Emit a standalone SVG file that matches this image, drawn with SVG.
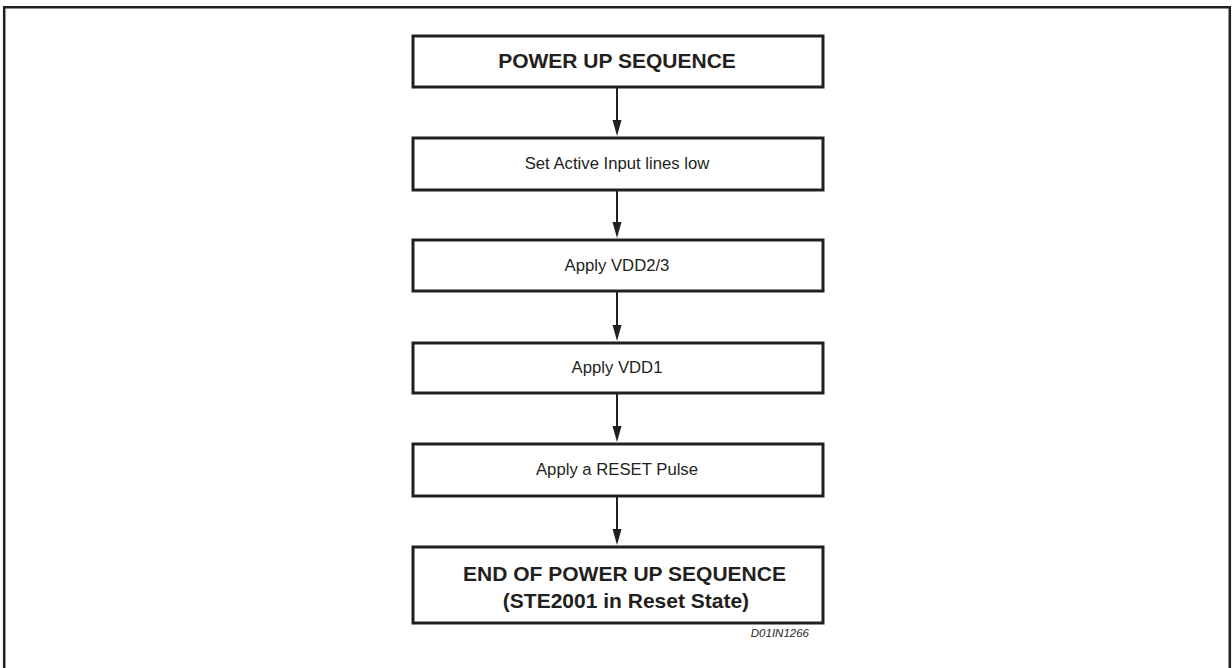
<svg xmlns="http://www.w3.org/2000/svg" width="1232" height="668" viewBox="0 0 1232 668">
<style>
.box{fill:#fff;stroke:#231f20;stroke-width:3}
.t{font-family:"Liberation Sans",Arial,sans-serif;fill:#231f20;text-anchor:middle}
.n{font-size:16.7px}
.b{font-size:21px;font-weight:bold}
.conn{stroke:#231f20;stroke-width:2;fill:none}
.head{fill:#231f20}
</style>
<rect x="0" y="0" width="1232" height="668" fill="#fff"/>
<path d="M4.2 680 V7.2 H1229.8 V680" fill="none" stroke="#231f20" stroke-width="2.5"/>
<g id="connectors">
<line class="conn" x1="617" y1="87" x2="617" y2="124"/>
<polygon class="head" points="612.5,120 621.5,120 617,136"/>
<line class="conn" x1="617" y1="190" x2="617" y2="226"/>
<polygon class="head" points="612.5,222 621.5,222 617,238"/>
<line class="conn" x1="617" y1="291" x2="617" y2="329"/>
<polygon class="head" points="612.5,325 621.5,325 617,341"/>
<line class="conn" x1="617" y1="393" x2="617" y2="430"/>
<polygon class="head" points="612.5,426 621.5,426 617,442"/>
<line class="conn" x1="617" y1="496" x2="617" y2="533"/>
<polygon class="head" points="612.5,529 621.5,529 617,545"/>
</g>
<g id="n1"><rect class="box" x="413" y="36" width="410" height="51"/><text class="t b" x="617" y="68">POWER UP SEQUENCE</text></g>
<g id="n2"><rect class="box" x="413" y="138" width="410" height="52"/><text class="t n" x="617" y="168.5">Set Active Input lines low</text></g>
<g id="n3"><rect class="box" x="413" y="240" width="410" height="51"/><text class="t n" x="617" y="270.5">Apply VDD2/3</text></g>
<g id="n4"><rect class="box" x="413" y="343" width="410" height="50"/><text class="t n" x="617" y="372.5">Apply VDD1</text></g>
<g id="n5"><rect class="box" x="413" y="444" width="410" height="52"/><text class="t n" x="617" y="475">Apply a RESET Pulse</text></g>
<g id="n6"><rect class="box" x="413" y="547" width="410" height="76"/><text class="t b" x="624.5" y="581">END OF POWER UP SEQUENCE</text><text class="t b" x="626" y="608">(STE2001 in Reset State)</text></g>
<text id="ref" x="809" y="637" font-family="Liberation Sans,Arial,sans-serif" font-style="italic" font-size="11.5" fill="#231f20" text-anchor="end">D01IN1266</text>
</svg>
